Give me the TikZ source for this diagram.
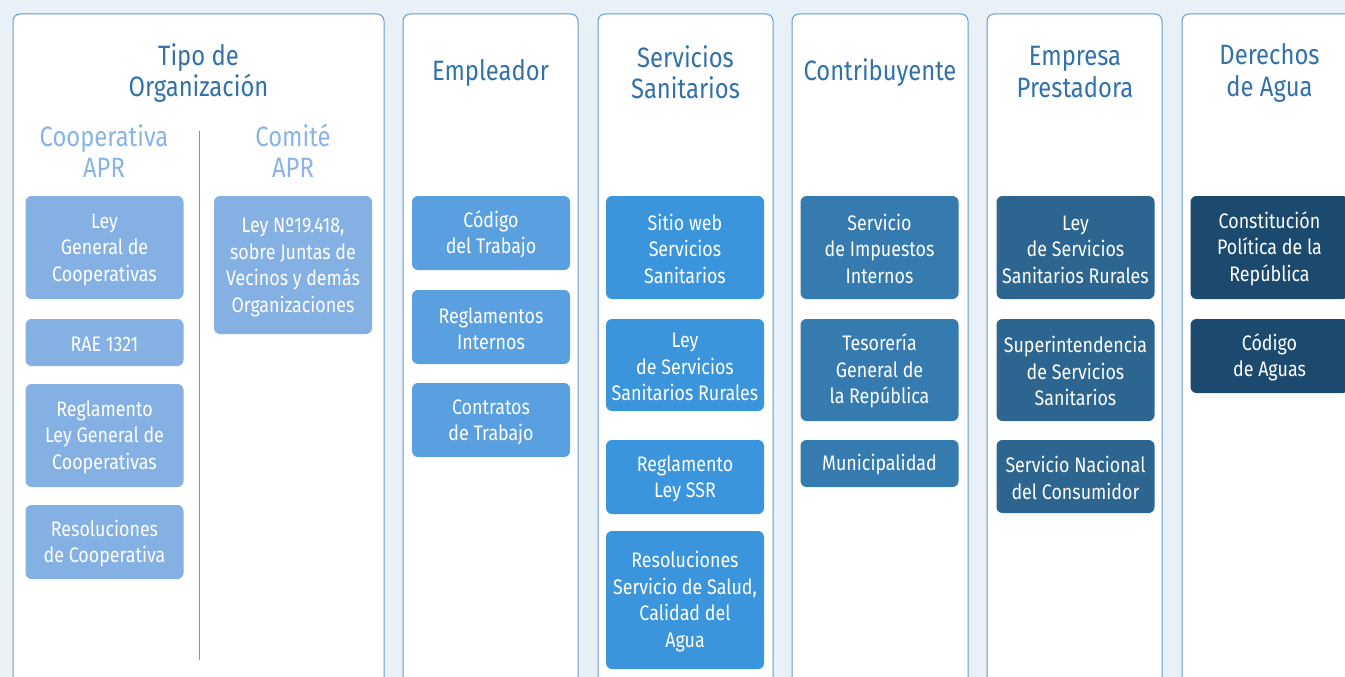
\documentclass[tikz,border=0pt]{standalone}
\usepackage{fontspec}
\setmainfont[FakeStretch=0.85]{Fira Sans}

\definecolor{fondo}{HTML}{E8F0F8}
\definecolor{borde}{HTML}{6A9BCB}
\definecolor{cabecera}{HTML}{3271AA}
\definecolor{celeste}{HTML}{8AB4E5}
\definecolor{tonoA}{HTML}{84B0E3}
\definecolor{tonoB}{HTML}{5AA0E0}
\definecolor{tonoC}{HTML}{3A95DC}
\definecolor{tonoD}{HTML}{357BB0}
\definecolor{tonoE}{HTML}{2B6590}
\definecolor{tonoF}{HTML}{1C4A6E}

\tikzset{
  columna/.style={draw=borde, line width=1pt, fill=white, rounded corners=7pt},
  caja/.style={rounded corners=6pt, text=white, align=flush center, inner sep=0pt,
    text width=156pt, minimum width=158pt, font=\fontsize{21}{26.5}\selectfont,
    execute at begin node={\rule{0pt}{19pt}}},
  titulo/.style={text=cabecera, align=center, font=\fontsize{28}{31.5}\selectfont},
  subtitulo/.style={titulo, text=celeste}
}

\begin{document}
\begin{tikzpicture}[x=1pt, y=-1pt]
\useasboundingbox (0,0) rectangle (1345,677);
\clip (0,0) rectangle (1345,677);
\fill[fondo] (0,0) rectangle (1345,677);

% columnas
\draw[columna] (13,14) rectangle (384,700);
\draw[columna] (403,14) rectangle (578,700);
\draw[columna] (598,14) rectangle (773,700);
\draw[columna] (792,14) rectangle (968,700);
\draw[columna] (987,14) rectangle (1162,700);
\draw[columna] (1182,14) rectangle (1358,700);
\draw[borde] (199,131) -- (199,660);

% cabeceras
\node[titulo] (tipo) at (198.5,73) {Tipo de\\Organización};
\node[titulo] (empleador) at (490.5,73) {Empleador};
\node[titulo] (sanitarios) at (685.5,72) {Servicios\\Sanitarios};
\node[titulo] (contribuyente) at (880,73) {Contribuyente};
\node[titulo] (empresa) at (1075,72) {Empresa\\Prestadora};
\node[titulo] (derechos) at (1269.5,73) {Derechos\\de Agua};
\node[subtitulo] (cooperativa) at (104,151) {Cooperativa\\APR};
\node[subtitulo] (comite) at (293,151) {Comité\\APR};

% tipo de organizacion
\node[caja, fill=tonoA, minimum height=103pt] (leygc) at (104.5,247.5) {Ley\\General de\\Cooperativas};
\node[caja, fill=tonoA, minimum height=47pt] (rae) at (104.5,342.5) {RAE 1321};
\node[caja, fill=tonoA, minimum height=103pt] (reglgc) at (104.5,435.5) {Reglamento\\Ley General de\\Cooperativas};
\node[caja, fill=tonoA, minimum height=74pt] (rescoop) at (104.5,542) {Resoluciones\\de Cooperativa};
\node[caja, fill=tonoA, minimum height=138pt] (juntas) at (293,265) {Ley Nº19.418,\\sobre Juntas de\\Vecinos y demás\\Organizaciones};

% empleador
\node[caja, fill=tonoB, minimum height=74pt] (codtrab) at (491,233) {Código\\del Trabajo};
\node[caja, fill=tonoB, minimum height=74pt] (reglint) at (491,327) {Reglamentos\\Internos};
\node[caja, fill=tonoB, minimum height=74pt] (contratos) at (491,420) {Contratos\\de Trabajo};

% servicios sanitarios
\node[caja, fill=tonoC, minimum height=103pt] (sitio) at (685,247.5) {Sitio web\\Servicios\\Sanitarios};
\node[caja, fill=tonoC, minimum height=92pt] (leyssr) at (685,365) {Ley\\de Servicios\\Sanitarios Rurales};
\node[caja, fill=tonoC, minimum height=74pt] (reglssr) at (685,477) {Reglamento\\Ley SSR};
\node[caja, fill=tonoC, minimum height=138pt] (salud) at (685,600) {Resoluciones\\Servicio de Salud,\\Calidad del\\Agua};

% contribuyente
\node[caja, fill=tonoD, minimum height=103pt] (sii) at (879.5,247.5) {Servicio\\de Impuestos\\Internos};
\node[caja, fill=tonoD, minimum height=102pt] (tesoreria) at (879.5,370) {Tesorería\\General de\\la República};
\node[caja, fill=tonoD, minimum height=47pt] (municipalidad) at (879.5,463.5) {Municipalidad};

% empresa prestadora
\node[caja, fill=tonoE, minimum height=103pt] (leyssrb) at (1075.5,247.5) {Ley\\de Servicios\\Sanitarios Rurales};
\node[caja, fill=tonoE, minimum height=102pt] (siss) at (1075.5,370) {Superintendencia\\de Servicios\\Sanitarios};
\node[caja, fill=tonoE, minimum height=73pt] (sernac) at (1075.5,476.5) {Servicio Nacional\\del Consumidor};

% derechos de agua
\node[caja, fill=tonoF, minimum height=103pt] (constitucion) at (1269.5,247.5) {Constitución\\Política de la\\República};
\node[caja, fill=tonoF, minimum height=74pt] (codaguas) at (1269.5,356) {Código\\de Aguas};
\end{tikzpicture}
\end{document}
